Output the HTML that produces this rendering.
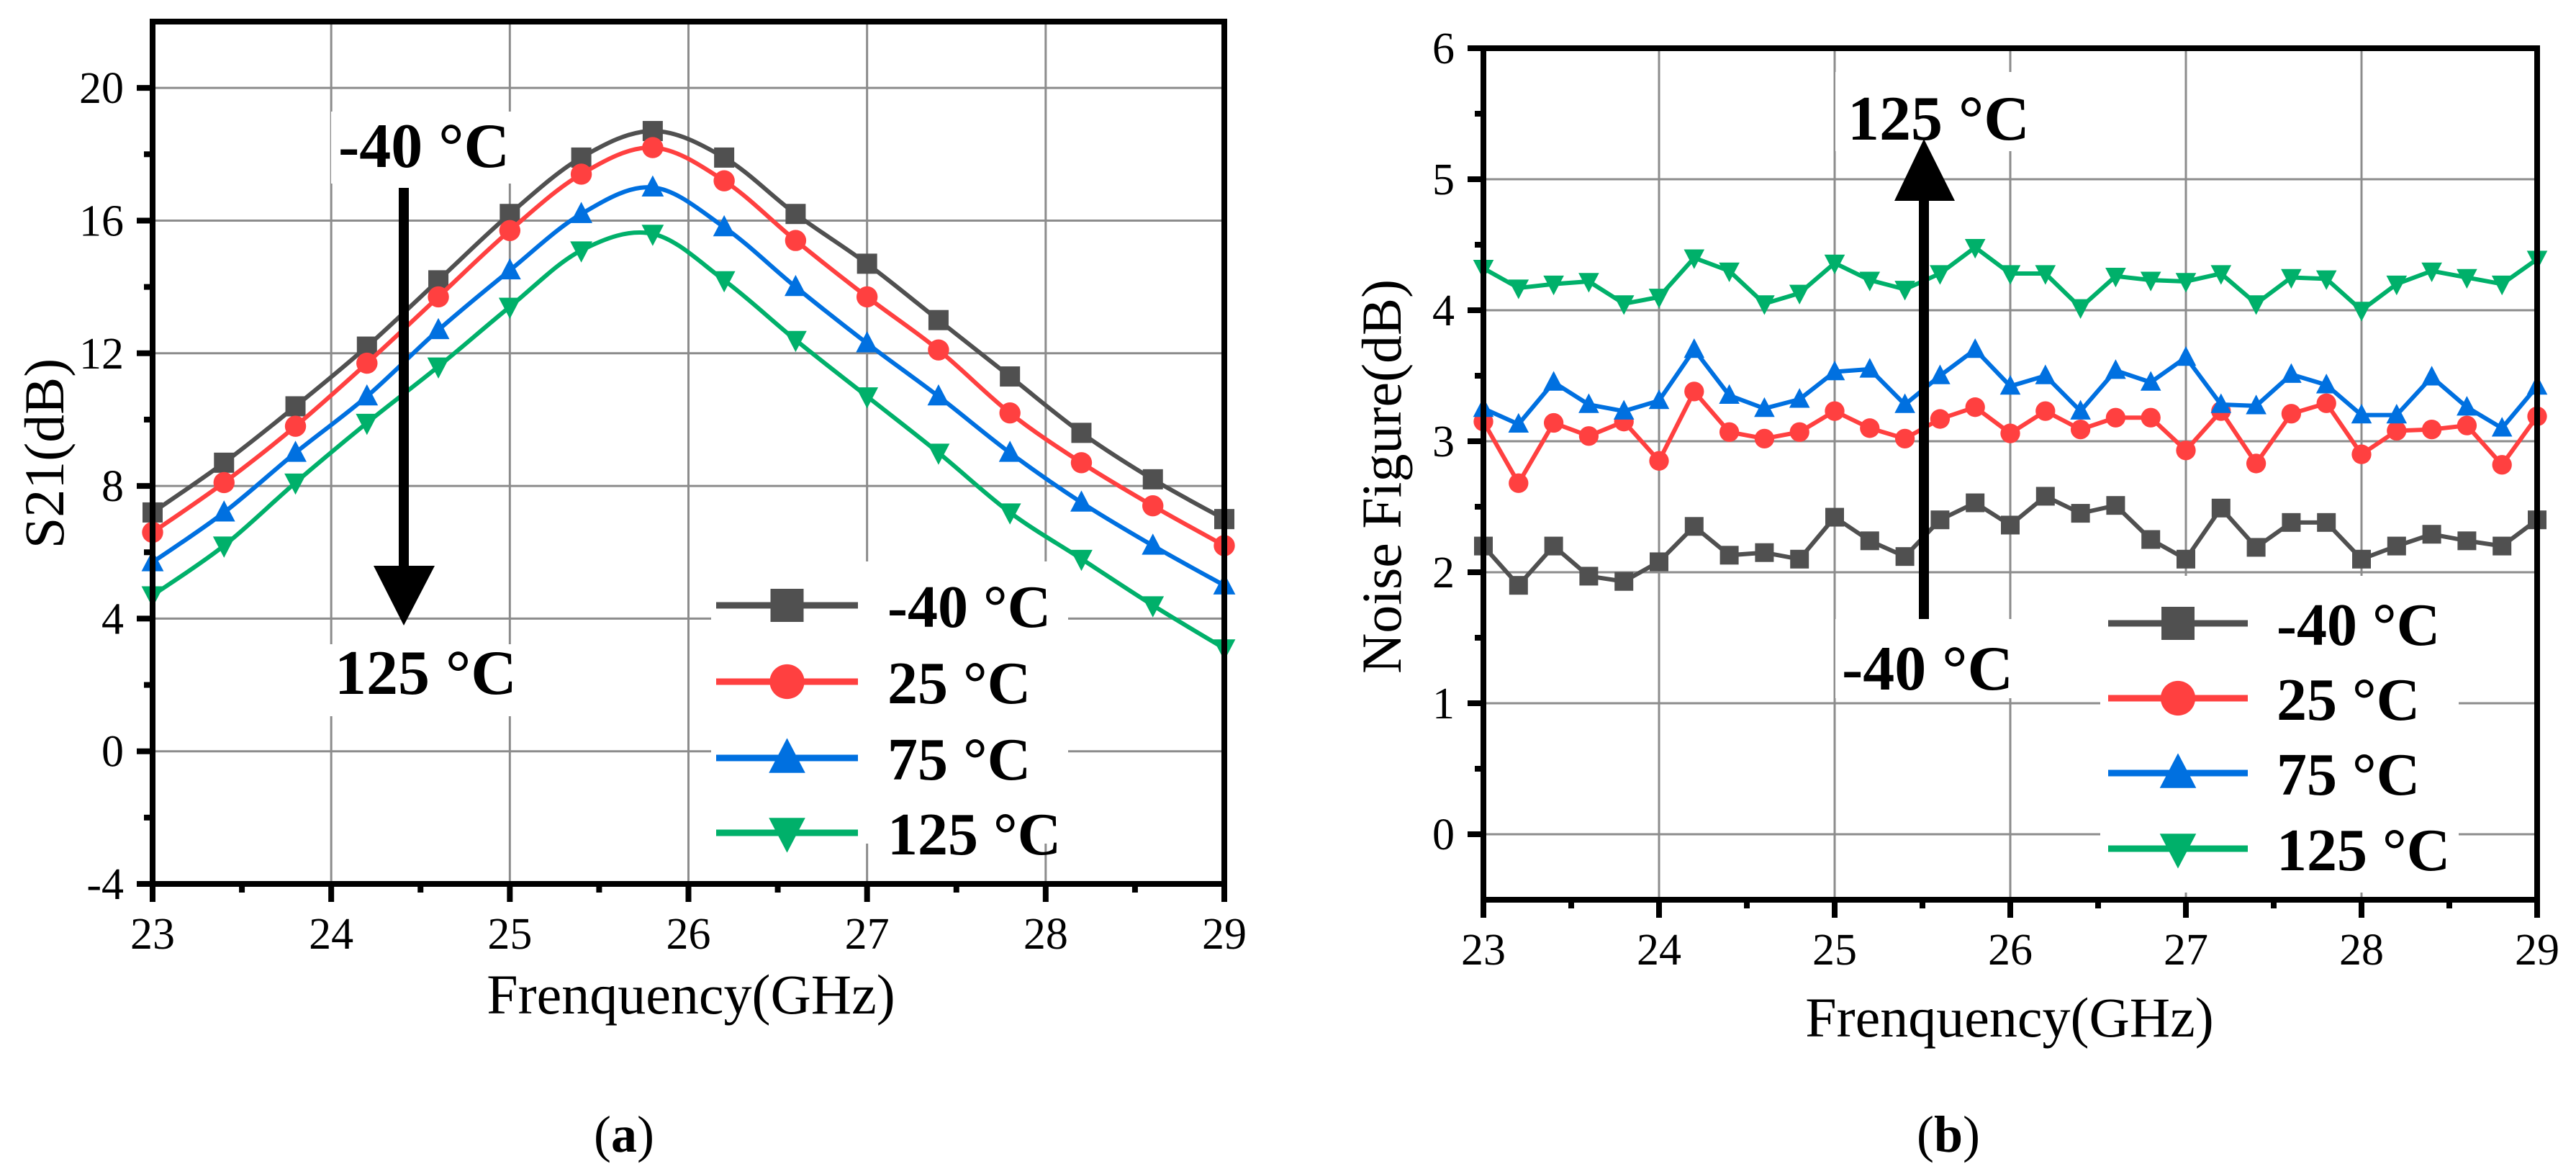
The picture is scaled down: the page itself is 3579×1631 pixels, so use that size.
<!DOCTYPE html>
<html><head><meta charset="utf-8"><style>
html,body{margin:0;padding:0;background:#fff}
svg{display:block}
text{font-family:"Liberation Serif",serif}
</style></head><body>
<svg id="svg" width="3579" height="1631" viewBox="0 0 3579 1631" xmlns="http://www.w3.org/2000/svg"></svg>
<script>
// ---- Chart (a) data ----
const s21Freq = [23,23.4,23.8,24.2,24.6,25,25.4,25.8,26.2,26.6,27,27.4,27.8,28.2,28.6,29];
const s21M40 = [7.2,8.7,10.4,12.2,14.2,16.2,17.9,18.7,17.9,16.2,14.7,13.0,11.3,9.6,8.2,7.0];
const s21P25 = [6.6,8.1,9.8,11.7,13.7,15.7,17.4,18.2,17.2,15.4,13.7,12.1,10.2,8.7,7.4,6.2];
const s21P75 = [5.7,7.2,9.0,10.7,12.7,14.5,16.2,17.0,15.8,14.0,12.3,10.7,9.0,7.5,6.2,5.0];
const s21P125 = [4.7,6.2,8.1,9.9,11.6,13.4,15.1,15.6,14.2,12.4,10.7,9.0,7.2,5.8,4.4,3.1];
const aXTicks = [23,24,25,26,27,28,29];
const aYTicks = [-4,0,4,8,12,16,20];
// ---- Chart (b) data ----
const nfFreq = [23,23.2,23.4,23.6,23.8,24,24.2,24.4,24.6,24.8,25,25.2,25.4,25.6,25.8,26,26.2,26.4,26.6,26.8,27,27.2,27.4,27.6,27.8,28,28.2,28.4,28.6,28.8,29];
const nfM40 = [2.2,1.9,2.2,1.97,1.93,2.08,2.35,2.13,2.15,2.1,2.42,2.24,2.12,2.4,2.53,2.36,2.58,2.45,2.51,2.25,2.1,2.49,2.19,2.38,2.38,2.1,2.2,2.29,2.24,2.2,2.4];
const nfP25 = [3.15,2.68,3.14,3.04,3.15,2.85,3.38,3.07,3.02,3.07,3.23,3.1,3.02,3.17,3.26,3.06,3.23,3.09,3.18,3.18,2.93,3.23,2.83,3.21,3.29,2.9,3.08,3.09,3.12,2.82,3.19];
const nfP75 = [3.25,3.13,3.45,3.28,3.23,3.31,3.7,3.35,3.25,3.32,3.53,3.55,3.28,3.5,3.7,3.42,3.5,3.23,3.54,3.45,3.64,3.28,3.27,3.51,3.43,3.2,3.2,3.49,3.26,3.1,3.42];
const nfP125 = [4.32,4.17,4.2,4.22,4.05,4.1,4.4,4.3,4.05,4.13,4.36,4.23,4.16,4.28,4.48,4.28,4.28,4.02,4.26,4.23,4.22,4.28,4.05,4.25,4.24,4.0,4.2,4.3,4.25,4.2,4.39];
const bXTicks = [23,24,25,26,27,28,29];
const bYTicks = [0,1,2,3,4,5,6];
const legendLabels = ["-40 °C","25 °C","75 °C","125 °C"];

const NS="http://www.w3.org/2000/svg";
const svg=document.getElementById('svg');
const COLORS=["#505050","#ff4040","#0070e0","#00b06a"];
const SHAPES=["square","circle","up","down"];
function el(tag,attrs,parent){const e=document.createElementNS(NS,tag);for(const k in attrs)e.setAttribute(k,attrs[k]);(parent||svg).appendChild(e);return e;}
function marker(g,shape,x,y,s,c){
  let m;
  if(shape==="square") m=el('rect',{x:x-s/2,y:y-s/2,width:s,height:s,fill:c},g);
  else if(shape==="circle") m=el('circle',{cx:x,cy:y,r:s/2*1.05,fill:c},g);
  else if(shape==="up") m=el('polygon',{points:`${x},${y-s*0.6} ${x-s*0.55},${y+s*0.45} ${x+s*0.55},${y+s*0.45}`,fill:c},g);
  else m=el('polygon',{points:`${x},${y+s*0.6} ${x-s*0.55},${y-s*0.45} ${x+s*0.55},${y-s*0.45}`,fill:c},g);
  
  
}
function smoothPath(pts){
  let d=`M${pts[0][0]},${pts[0][1]}`;
  for(let i=0;i<pts.length-1;i++){
    const p0=pts[i-1]||pts[i],p1=pts[i],p2=pts[i+1],p3=pts[i+2]||p2;
    const c1=[p1[0]+(p2[0]-p0[0])/6,p1[1]+(p2[1]-p0[1])/6];
    const c2=[p2[0]-(p3[0]-p1[0])/6,p2[1]-(p3[1]-p1[1])/6];
    d+=` C${c1[0]},${c1[1]} ${c2[0]},${c2[1]} ${p2[0]},${p2[1]}`;
  }
  return d;
}
function chart(cfg){
  const {L,R,T,B,x0,x1,y0,y1,xt,yt,name}=cfg;
  const sx=v=>L+(v-x0)/(x1-x0)*(R-L);
  const sy=v=>B-(v-y0)/(y1-y0)*(B-T);
  const g=el('g',{});
  
  
  xt.forEach(v=>{const l=el('line',{x1:sx(v),x2:sx(v),y1:T,y2:B,stroke:"#8c8c8c","stroke-width":3},g);});
  yt.forEach(v=>{const l=el('line',{x1:L,x2:R,y1:sy(v),y2:sy(v),stroke:"#8c8c8c","stroke-width":3},g);});
  cfg.whites.forEach(w=>el('rect',{x:w[0],y:w[1],width:w[2],height:w[3],fill:"#fff"},g));
  cfg.series.forEach((s,i)=>{
    const pts=cfg.xs.map((x,j)=>[sx(x),sy(s[j])]);
    const sg=el('g',{},g);
    
    
    const d=cfg.smooth?smoothPath(pts):'M'+pts.map(p=>p.join(',')).join(' L');
    el('path',{d,fill:"none",stroke:COLORS[i],"stroke-width":cfg.lw,"stroke-linejoin":"round"},sg);
    pts.forEach(p=>marker(sg,SHAPES[i],p[0],p[1],cfg.ms,COLORS[i]));
  });
  const f=el('rect',{x:L,y:T,width:R-L,height:B-T,fill:"none",stroke:"#000","stroke-width":8},g);
  
  xt.forEach((v,i)=>{
    el('line',{x1:sx(v),x2:sx(v),y1:B,y2:B+25,stroke:"#000","stroke-width":8},g);
    if(i<xt.length-1){const m=(v+xt[i+1])/2;el('line',{x1:sx(m),x2:sx(m),y1:B,y2:B+12,stroke:"#000","stroke-width":8},g);}
    const t=el('text',{x:sx(v),y:B+90,"font-size":62,"text-anchor":"middle"},g);t.textContent=v;
    
  });
  yt.forEach((v,i)=>{
    el('line',{x1:L,x2:L-22,y1:sy(v),y2:sy(v),stroke:"#000","stroke-width":8},g);
    if(i<yt.length-1){const m=(v+yt[i+1])/2;el('line',{x1:L,x2:L-12,y1:sy(m),y2:sy(m),stroke:"#000","stroke-width":8},g);}
    const t=el('text',{x:L-40,y:sy(v)+21,"font-size":62,"text-anchor":"end"},g);t.textContent=v;
    
  });
  const lg=el('g',{},g);
  
  legendLabels.forEach((lab,i)=>{
    const y=cfg.leg.ys[i];
    const e=el('g',{},lg);
    
    el('line',{x1:cfg.leg.x1,x2:cfg.leg.x2,y1:y,y2:y,stroke:COLORS[i],"stroke-width":cfg.leg.lw},e);
    marker(e,SHAPES[i],(cfg.leg.x1+cfg.leg.x2)/2,y,46,COLORS[i]);
    const t=el('text',{x:cfg.leg.tx,y:y+30,"font-size":84,"font-weight":"bold"},e);t.textContent=lab;
  });
  return {sx,sy,g};
}

chart({name:'s21-chart',L:212,R:1701,T:30,B:1228,x0:23,x1:29,y0:-4,y1:22,xt:aXTicks,yt:aYTicks,
  xs:s21Freq,series:[s21M40,s21P25,s21P75,s21P125],smooth:true,lw:6,ms:28,
  whites:[[460,155,270,100],[455,895,280,100],[988,780,496,392]],
  leg:{x1:995,x2:1192,tx:1233,ys:[841,947,1053,1157],lw:9}});

chart({name:'noise-figure-chart',L:2061,R:3525,T:67,B:1250,x0:23,x1:29,y0:-0.5,y1:6,xt:bXTicks,yt:bYTicks,
  xs:nfFreq,series:[nfM40,nfP25,nfP75,nfP125],smooth:false,lw:6,ms:26,
  whites:[[2918,800,498,440],[2550,100,275,110],[2550,860,260,110]],
  leg:{x1:2929,x2:3123,tx:3163,ys:[866,970,1074,1179],lw:9}});

function txt(x,y,s,str,attrs,name){const t=el('text',Object.assign({x,y,"font-size":s},attrs||{}));t.textContent=str;
  return t;}
txt(470,232,88,"-40 °C",{"font-weight":"bold"},'annotation-minus40');
txt(465,964,88,"125 °C",{"font-weight":"bold"},'annotation-125');
let ar=el('g',{});
el('rect',{x:554,y:261,width:14,height:530,fill:"#000"},ar);
el('polygon',{points:"519,786 604,786 561,869",fill:"#000"},ar);
txt(2567,194,88,"125 °C",{"font-weight":"bold"},'annotation-125');
txt(2559,958,88,"-40 °C",{"font-weight":"bold"},'annotation-minus40');
ar=el('g',{});
el('rect',{x:2666,y:275,width:14,height:585,fill:"#000"},ar);
el('polygon',{points:"2632,279 2716,279 2673,193",fill:"#000"},ar);

txt(960,1408,78,"Frenquency(GHz)",{"text-anchor":"middle"},'x-axis-title');
txt(2792,1440,78,"Frenquency(GHz)",{"text-anchor":"middle"},'x-axis-title');
txt(0,0,78,"S21(dB)",{"text-anchor":"middle",transform:"translate(88,630) rotate(-90)"},'y-axis-title');
txt(0,0,78,"Noise Figure(dB)",{"text-anchor":"middle",transform:"translate(1946,662) rotate(-90)"},'y-axis-title');
const pa=txt(867,1600,72,"",{"text-anchor":"middle"},'panel-label-a');
pa.innerHTML='(<tspan font-weight="bold">a</tspan>)';
const pb=txt(2707,1600,72,"",{"text-anchor":"middle"},'panel-label-b');
pb.innerHTML='(<tspan font-weight="bold">b</tspan>)';
</script>
</body></html>
